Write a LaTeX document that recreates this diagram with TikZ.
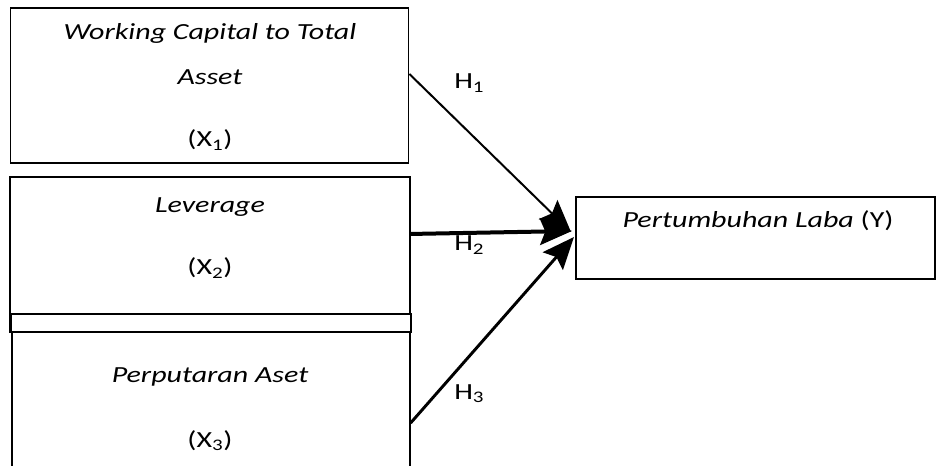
\documentclass[tikz,border=0pt]{standalone}
\usepackage{fontspec}
\setmainfont{Carlito}[FakeStretch=1.3]
\usepackage{tikz}
\usetikzlibrary{arrows.meta}

\tikzset{
  box/.style={draw,black,line width=0.9pt,inner sep=0pt},
  lbl/.style={anchor=base,inner sep=0pt,font=\fontsize{17.3}{20}\selectfont},
  hyp/.style={anchor=base west,inner sep=0pt,font=\fontsize{17.3}{20}\selectfont},
  arr/.style={-{Stealth[length=24pt 0,width=20pt 0,inset=4pt 0]},black}
}

\begin{document}
\begin{tikzpicture}[x=0.75pt,y=-0.75pt]
\useasboundingbox (0,0) rectangle (938,466);

% left boxes
\node[box,minimum width=299pt,minimum height=116.25pt] (wcta) at (209.5,85.5) {};
\node[box,minimum width=300pt,minimum height=116.25pt] (lev) at (210,254.5) {};
\node[box,minimum width=298.5pt,minimum height=111pt] (pa) at (211,406) {};
\node[box,fill=white,minimum width=300pt,minimum height=13.5pt] (strip) at (211,323) {};

% right box
\node[box,minimum width=269.25pt,minimum height=61.5pt] (pl) at (755.5,238) {};

% texts
\draw (210,39.5) node[lbl] (t1) {\itshape Working Capital to Total};
\draw (210,85) node[lbl] (t2) {\itshape Asset};
\draw (210,147) node[lbl] (x1) {(X\textsubscript{1})};
\draw (210,213) node[lbl] (t3) {\itshape Leverage};
\draw (210,275) node[lbl] (x2) {(X\textsubscript{2})};
\draw (210,382) node[lbl] (t4) {\itshape Perputaran Aset};
\draw (210,447) node[lbl] (x3) {(X\textsubscript{3})};
\draw (758,228) node[lbl] (ty) {\itshape Pertumbuhan Laba\/ \upshape(Y)};

% arrows
\coordinate (tip1) at (571,232);
\coordinate (tip2) at (572,231);
\coordinate (tip3) at (574,237);
\draw[arr,line width=1.5pt] ([yshift=8.6pt]wcta.east) -- (tip1);
\draw[arr,line width=3pt] ([yshift=15.4pt]lev.east) -- (tip2);
\draw[arr,line width=2.2pt] ([yshift=-12.75pt]pa.east) -- (tip3);

\draw (454,89) node[hyp] (h1) {H\textsubscript{1}};
\draw (454,251) node[hyp] (h2) {H\textsubscript{2}};
\draw (454,399) node[hyp] (h3) {H\textsubscript{3}};

\end{tikzpicture}
\end{document}
